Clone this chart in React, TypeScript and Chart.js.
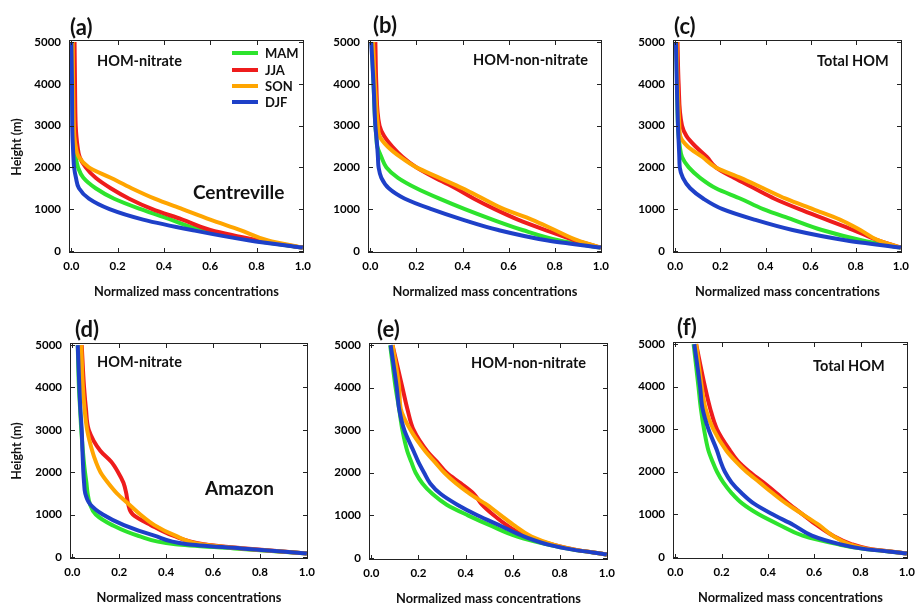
import React, { useEffect, useRef } from "react";
import { Chart, registerables } from "chart.js";
Chart.register(...registerables);

// ---------- data ----------
const seasonNames = ["MAM", "JJA", "SON", "DJF"];
const seasonColors = ["#2de32d", "#ee1c1c", "#ffa500", "#1e40c8"];

const xTickValues = [0, 0.2, 0.4, 0.6, 0.8, 1.0];
const yTickValues = [0, 1000, 2000, 3000, 4000, 5000];

// heights (m), top row (Centreville) and bottom row (Amazon)
const heightsCentreville = [5000, 4000, 3000, 2750, 2500, 2250, 2000, 1750, 1500, 1250, 1000, 750, 500, 250, 80];
const heightsAmazon = [5000, 4000, 3500, 3000, 2500, 2250, 2000, 1750, 1500, 1250, 1000, 750, 500, 300, 200, 80];

// (a) Centreville HOM-nitrate
const aMAM = [0.002, 0.003, 0.007, 0.008, 0.012, 0.019, 0.029, 0.052, 0.105, 0.185, 0.30, 0.43, 0.56, 0.79, 1.0];
const aJJA = [0.014, 0.016, 0.019, 0.022, 0.027, 0.036, 0.062, 0.105, 0.17, 0.25, 0.35, 0.48, 0.60, 0.81, 1.0];
const aSON = [0.006, 0.008, 0.011, 0.013, 0.019, 0.032, 0.076, 0.17, 0.26, 0.36, 0.48, 0.60, 0.73, 0.85, 1.0];
const aDJF = [0.0, 0.003, 0.004, 0.005, 0.007, 0.009, 0.012, 0.02, 0.033, 0.076, 0.165, 0.31, 0.52, 0.77, 1.0];

// (b) Centreville HOM-non-nitrate
const bMAM = [0.006, 0.014, 0.022, 0.026, 0.03, 0.048, 0.07, 0.12, 0.20, 0.30, 0.41, 0.53, 0.66, 0.82, 1.0];
const bJJA = [0.022, 0.026, 0.04, 0.06, 0.095, 0.14, 0.20, 0.28, 0.37, 0.45, 0.54, 0.64, 0.76, 0.89, 1.0];
const bSON = [0.012, 0.02, 0.033, 0.04, 0.075, 0.13, 0.20, 0.30, 0.40, 0.49, 0.58, 0.70, 0.80, 0.90, 1.0];
const bDJF = [0.004, 0.014, 0.022, 0.026, 0.03, 0.033, 0.036, 0.048, 0.08, 0.15, 0.265, 0.40, 0.555, 0.77, 1.0];

// (c) Centreville Total HOM
const cMAM = [0.005, 0.008, 0.012, 0.015, 0.02, 0.03, 0.06, 0.11, 0.18, 0.29, 0.39, 0.52, 0.65, 0.83, 1.0];
const cJJA = [0.01, 0.015, 0.03, 0.05, 0.09, 0.14, 0.18, 0.26, 0.35, 0.44, 0.55, 0.67, 0.79, 0.90, 1.0];
const cSON = [0.006, 0.01, 0.018, 0.022, 0.055, 0.12, 0.18, 0.29, 0.39, 0.49, 0.61, 0.73, 0.82, 0.90, 1.0];
const cDJF = [0.003, 0.007, 0.012, 0.014, 0.016, 0.018, 0.02, 0.034, 0.066, 0.125, 0.21, 0.35, 0.52, 0.76, 1.0];

// (d) Amazon HOM-nitrate
const dMAM = [0.023, 0.028, 0.033, 0.038, 0.045, 0.049, 0.054, 0.06, 0.065, 0.075, 0.10, 0.17, 0.28, 0.44, 0.69, 1.0];
const dJJA = [0.04, 0.05, 0.058, 0.07, 0.12, 0.165, 0.195, 0.218, 0.23, 0.238, 0.258, 0.335, 0.43, 0.56, 0.74, 1.0];
const dSON = [0.038, 0.045, 0.052, 0.063, 0.085, 0.1, 0.12, 0.152, 0.19, 0.24, 0.29, 0.35, 0.44, 0.55, 0.72, 1.0];
const dDJF = [0.023, 0.03, 0.034, 0.04, 0.043, 0.045, 0.047, 0.05, 0.055, 0.075, 0.13, 0.22, 0.35, 0.49, 0.72, 1.0];

// (e) Amazon HOM-non-nitrate
const eMAM = [0.08, 0.103, 0.118, 0.132, 0.153, 0.17, 0.188, 0.217, 0.26, 0.32, 0.41, 0.51, 0.62, 0.76, 0.85, 1.0];
const eJJA = [0.09, 0.132, 0.153, 0.18, 0.238, 0.28, 0.32, 0.38, 0.436, 0.47, 0.52, 0.58, 0.66, 0.78, 0.86, 1.0];
const eSON = [0.09, 0.118, 0.125, 0.167, 0.23, 0.27, 0.31, 0.36, 0.42, 0.49, 0.55, 0.61, 0.68, 0.78, 0.86, 1.0];
const eDJF = [0.082, 0.108, 0.118, 0.14, 0.18, 0.20, 0.224, 0.25, 0.295, 0.365, 0.45, 0.55, 0.65, 0.76, 0.85, 1.0];

// (f) Amazon Total HOM
const fMAM = [0.079, 0.10, 0.11, 0.124, 0.143, 0.16, 0.18, 0.207, 0.243, 0.29, 0.36, 0.45, 0.55, 0.70, 0.80, 1.0];
const fJJA = [0.09, 0.128, 0.15, 0.18, 0.236, 0.27, 0.32, 0.38, 0.436, 0.49, 0.55, 0.61, 0.68, 0.76, 0.83, 1.0];
const fSON = [0.09, 0.114, 0.13, 0.164, 0.22, 0.26, 0.307, 0.364, 0.42, 0.48, 0.55, 0.62, 0.68, 0.75, 0.82, 1.0];
const fDJF = [0.082, 0.107, 0.117, 0.143, 0.18, 0.195, 0.214, 0.243, 0.286, 0.34, 0.42, 0.51, 0.59, 0.71, 0.80, 1.0];

// ---------- layout ----------
const FONT = "Lato, 'Open Sans', sans-serif";
const M_LEFT = 70;
const M_TOP = 40;
const M_RIGHT = 24;
const M_BOTTOM = 50;

type Box = [number, number, number, number];

const panels: { id: string; box: Box; heights: number[]; series: number[][] }[] = [
  { id: "a", box: [69, 40, 304, 253], heights: heightsCentreville, series: [aMAM, aJJA, aSON, aDJF] },
  { id: "b", box: [368, 40, 602, 253], heights: heightsCentreville, series: [bMAM, bJJA, bSON, bDJF] },
  { id: "c", box: [673, 40, 902, 253], heights: heightsCentreville, series: [cMAM, cJJA, cSON, cDJF] },
  { id: "d", box: [70, 343, 308, 559], heights: heightsAmazon, series: [dMAM, dJJA, dSON, dDJF] },
  { id: "e", box: [369, 343, 608, 560], heights: heightsAmazon, series: [eMAM, eJJA, eSON, eDJF] },
  { id: "f", box: [673, 342, 908, 559], heights: heightsAmazon, series: [fMAM, fJJA, fSON, fDJF] },
];

const framePlugin = {
  id: "frameTicks",
  afterDatasetsDraw(chart: any) {
    const { ctx, chartArea, scales } = chart;
    const { left, top, right, bottom } = chartArea;
    const L = 5;
    ctx.save();
    ctx.strokeStyle = "#222";
    ctx.lineWidth = 1;
    ctx.strokeRect(left + 0.5, top + 0.5, right - left - 1, bottom - top - 1);
    ctx.beginPath();
    scales.x.ticks.forEach((t: any) => {
      const px = Math.round(scales.x.getPixelForValue(t.value)) + 0.5;
      ctx.moveTo(px, bottom);
      ctx.lineTo(px, bottom - L);
      ctx.moveTo(px, top);
      ctx.lineTo(px, top + L);
    });
    scales.y.ticks.forEach((t: any) => {
      const py = Math.round(scales.y.getPixelForValue(t.value)) + 0.5;
      ctx.moveTo(left, py);
      ctx.lineTo(left + L, py);
      ctx.moveTo(right, py);
      ctx.lineTo(right - L, py);
    });
    ctx.stroke();
    ctx.restore();
  },
};

function Panel({ box, heights, series }: { box: Box; heights: number[]; series: number[][] }) {
  const ref = useRef<HTMLCanvasElement>(null);
  const [l, t, r, b] = box;
  const w = r - l + M_LEFT + M_RIGHT;
  const h = b - t + M_TOP + M_BOTTOM;
  useEffect(() => {
    const chart = new Chart(ref.current as HTMLCanvasElement, {
      type: "line",
      data: {
        datasets: series.map((vals, i) => ({
          label: seasonNames[i],
          data: heights.map((hh, k) => ({ x: vals[k], y: hh })).reverse(),
          borderColor: seasonColors[i],
          backgroundColor: seasonColors[i],
          borderWidth: 4,
          pointRadius: 0,
          fill: false,
          cubicInterpolationMode: "monotone",
          order: 4 - i,
        })),
      },
      options: {
        animation: false,
        responsive: false,
        indexAxis: "y",
        events: [],
        layout: { padding: { left: 0, top: M_TOP, right: M_RIGHT, bottom: 0 } },
        plugins: { legend: { display: false }, tooltip: { enabled: false } },
        scales: {
          x: {
            type: "linear",
            position: "bottom",
            min: -0.01,
            max: 1.005,
            grid: { display: false, drawTicks: false },
            border: { display: false },
            ticks: {
              padding: 6,
              color: "#000",
              font: { family: FONT, size: 11.5, weight: "bold" },
              callback: (v: any) => Number(v).toFixed(1),
            },
            afterBuildTicks: (s: any) => {
              s.ticks = xTickValues.map((v) => ({ value: v }));
            },
            afterFit: (s: any) => {
              s.height = M_BOTTOM;
              s.paddingLeft = 0;
              s.paddingRight = 0;
            },
          },
          y: {
            type: "linear",
            position: "left",
            min: -50,
            max: 5050,
            grid: { display: false, drawTicks: false },
            border: { display: false },
            ticks: {
              padding: 8,
              color: "#000",
              font: { family: FONT, size: 11.5, weight: "bold" },
              callback: (v: any) => String(v),
            },
            afterBuildTicks: (s: any) => {
              s.ticks = yTickValues.map((v) => ({ value: v }));
            },
            afterFit: (s: any) => {
              s.width = M_LEFT;
              s.paddingTop = 0;
              s.paddingBottom = 0;
            },
          },
        },
      } as any,
      plugins: [framePlugin],
    });
    return () => chart.destroy();
  }, []);
  return (
    <canvas
      ref={ref}
      width={w}
      height={h}
      style={{ position: "absolute", left: l - M_LEFT, top: t - M_TOP, width: w, height: h }}
    />
  );
}

function Txt({ x, y, size, text, align = "left", rotate = false }: { x: number; y: number; size: number; text: string; align?: string; rotate?: boolean }) {
  const tx = align === "center" ? "-50%" : "0";
  return (
    <div
      style={{
        position: "absolute",
        left: x,
        top: y,
        fontSize: size,
        lineHeight: 1,
        whiteSpace: "nowrap",
        transform: rotate ? "translate(-50%,-50%) rotate(-90deg)" : `translate(${tx},-50%)`,
      }}
    >
      {text}
    </div>
  );
}

const panelLetters = ["(a)", "(b)", "(c)", "(d)", "(e)", "(f)"];
const letterPos: [number, number][] = [[70, 27], [373, 25], [674, 26], [75, 329], [377, 329], [677, 327]];
const panelTitles = ["HOM-nitrate", "HOM-non-nitrate", "Total HOM", "HOM-nitrate", "HOM-non-nitrate", "Total HOM"];
const titlePos: [number, number][] = [[97, 61], [473, 60], [817, 61], [97, 362], [471, 363], [813, 366]];
const siteNames = ["Centreville", "Amazon"];
const sitePos: [number, number][] = [[193, 191], [205, 487]];
const xTitle = "Normalized mass concentrations";
const yTitle = "Height (m)";
const legendY = [53, 70, 86, 102];

export default function App() {
  return (
    <div
      style={{
        position: "absolute",
        left: 0,
        top: 0,
        width: 917,
        height: 605,
        background: "#fff",
        overflow: "hidden",
        fontFamily: FONT,
        fontWeight: 700,
        color: "#111",
      }}
    >
      {panels.map((p) => (
        <Panel key={p.id} box={p.box} heights={p.heights} series={p.series} />
      ))}
      {panelLetters.map((s, i) => (
        <Txt key={"l" + i} x={letterPos[i][0]} y={letterPos[i][1]} size={22} text={s} />
      ))}
      {panelTitles.map((s, i) => (
        <Txt key={"t" + i} x={titlePos[i][0]} y={titlePos[i][1]} size={14.5} text={s} />
      ))}
      {siteNames.map((s, i) => (
        <Txt key={"s" + i} x={sitePos[i][0]} y={sitePos[i][1]} size={19} text={s} />
      ))}
      {panels.map((p, i) => (
        <Txt key={"x" + i} x={(p.box[0] + p.box[2]) / 2} y={p.box[3] + 38} size={12.8} text={xTitle} align="center" />
      ))}
      {[0, 3].map((i) => (
        <Txt key={"y" + i} x={17} y={(panels[i].box[1] + panels[i].box[3]) / 2} size={12.5} text={yTitle} rotate />
      ))}
      {seasonNames.map((s, i) => (
        <React.Fragment key={"g" + i}>
          <div style={{ position: "absolute", left: 232, top: legendY[i] - 2, width: 26, height: 4, background: seasonColors[i] }} />
          <Txt x={265} y={legendY[i]} size={13} text={s} />
        </React.Fragment>
      ))}
    </div>
  );
}
